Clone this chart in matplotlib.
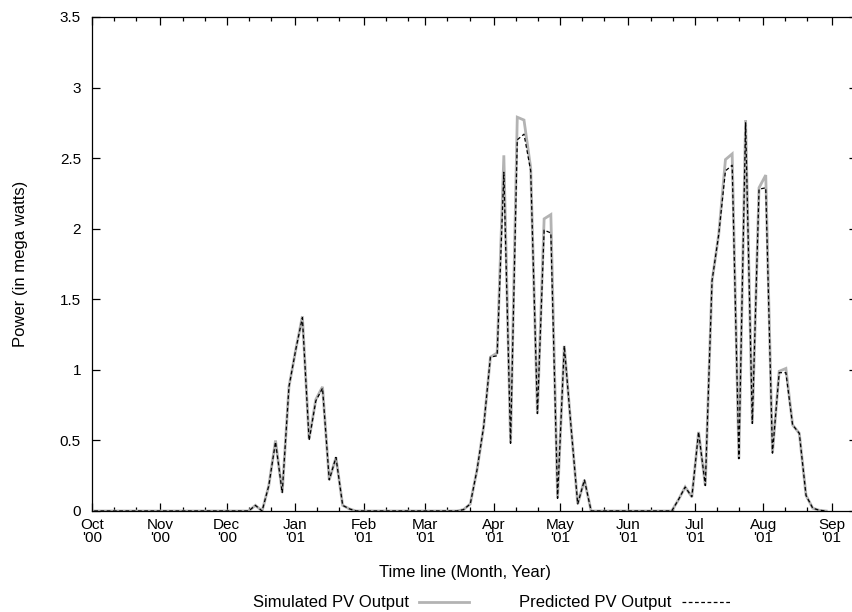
import matplotlib
matplotlib.use("Agg")
import matplotlib.pyplot as plt
import matplotlib.dates as mdates
from matplotlib.ticker import FormatStrFormatter
import pandas as pd

plt.rcParams['font.family'] = ['Liberation Sans', 'DejaVu Sans']

# Sample dates (one sample about every 3 days)
start_date = '2000-10-02'
sample_step = '73h'

simulated = ([0.0] * 24 +
             [0.04, 0.0, 0.18, 0.50, 0.13, 0.88, 1.14, 1.38, 0.51, 0.79, 0.88, 0.22, 0.38, 0.04, 0.015] +
             [0.0] * 16 +
             [0.01, 0.05, 0.29, 0.60, 1.09, 1.12, 2.52, 0.48, 2.79, 2.77, 2.43, 0.69, 2.07, 2.10,
              0.09, 1.17, 0.60, 0.05, 0.22] +
             [0.0] * 13 +
             [0.08, 0.17, 0.10, 0.56, 0.18, 1.63, 1.96, 2.49, 2.53, 0.37, 2.77, 0.62, 2.29, 2.38,
              0.41, 0.99, 1.01, 0.61, 0.55, 0.11, 0.02, 0.005, 0.0])

predicted = ([0.0] * 24 +
             [0.04, 0.0, 0.18, 0.49, 0.13, 0.88, 1.14, 1.37, 0.50, 0.78, 0.87, 0.22, 0.38, 0.04, 0.015] +
             [0.0] * 16 +
             [0.01, 0.05, 0.29, 0.60, 1.09, 1.10, 2.40, 0.48, 2.63, 2.67, 2.41, 0.69, 1.99, 1.97,
              0.09, 1.17, 0.60, 0.05, 0.22] +
             [0.0] * 13 +
             [0.08, 0.17, 0.10, 0.56, 0.18, 1.63, 1.96, 2.41, 2.45, 0.37, 2.75, 0.62, 2.28, 2.29,
              0.41, 0.98, 0.98, 0.61, 0.55, 0.11, 0.02, 0.005, 0.0])

y_ticks = [0, 0.5, 1, 1.5, 2, 2.5, 3, 3.5]

dates = pd.date_range(start_date, periods=len(simulated), freq=sample_step)

FS = 12
TFS = 11
W, H = 853, 612
fig = plt.figure(figsize=(W / 100, H / 100), dpi=100)
ax = fig.add_axes([92 / W, 101 / H, (857 - 92) / W, (511 - 17) / H])

l1, = ax.plot(dates, simulated, color='#b3b3b3', lw=2.0, solid_joinstyle='miter',
              label='Simulated PV Output')
l2, = ax.plot(dates, predicted, color='black', lw=0.9, dashes=(3, 2),
              label='Predicted PV Output')

ax.set_xlim(pd.Timestamp('2000-10-01'), pd.Timestamp('2001-09-12 12:00'))
ax.set_ylim(0, 3.5)
ax.set_yticks(y_ticks)
ax.yaxis.set_major_formatter(FormatStrFormatter('%g'))

ax.xaxis.set_major_locator(mdates.MonthLocator(bymonthday=1))
ax.xaxis.set_minor_locator(mdates.DayLocator(bymonthday=[11, 21]))
ax.xaxis.set_major_formatter(mdates.DateFormatter("%b\n'%y"))

ax.tick_params(which='both', direction='in', top=True, right=True, labelsize=TFS, width=0.9)
ax.tick_params(which='major', length=5.5)
ax.tick_params(axis='x', which='major', pad=5)
ax.tick_params(axis='y', which='major', pad=8)
ax.tick_params(which='minor', length=3)
for lab in ax.get_xticklabels():
    lab.set_linespacing(0.95)
for s in ax.spines.values():
    s.set_linewidth(0.9)

ax.set_xlabel('Time line (Month, Year)', fontsize=FS, va='center')
ax.xaxis.set_label_coords(0.5 - 9 / 765, (511 - 572) / 494)
ax.set_ylabel('Power (in mega watts)', fontsize=FS, va='center')
ax.yaxis.set_label_coords((21 - 92) / 765, 0.5)

fig.legend(handles=[l1, l2], loc='center', bbox_to_anchor=(492.5 / W, 1 - 603 / H), ncol=2,
           frameon=False, markerfirst=False, fontsize=FS, handlelength=3.0,
           columnspacing=3.0, handletextpad=0.6, borderpad=0, borderaxespad=0)

fig.savefig('out.png', dpi=100)
